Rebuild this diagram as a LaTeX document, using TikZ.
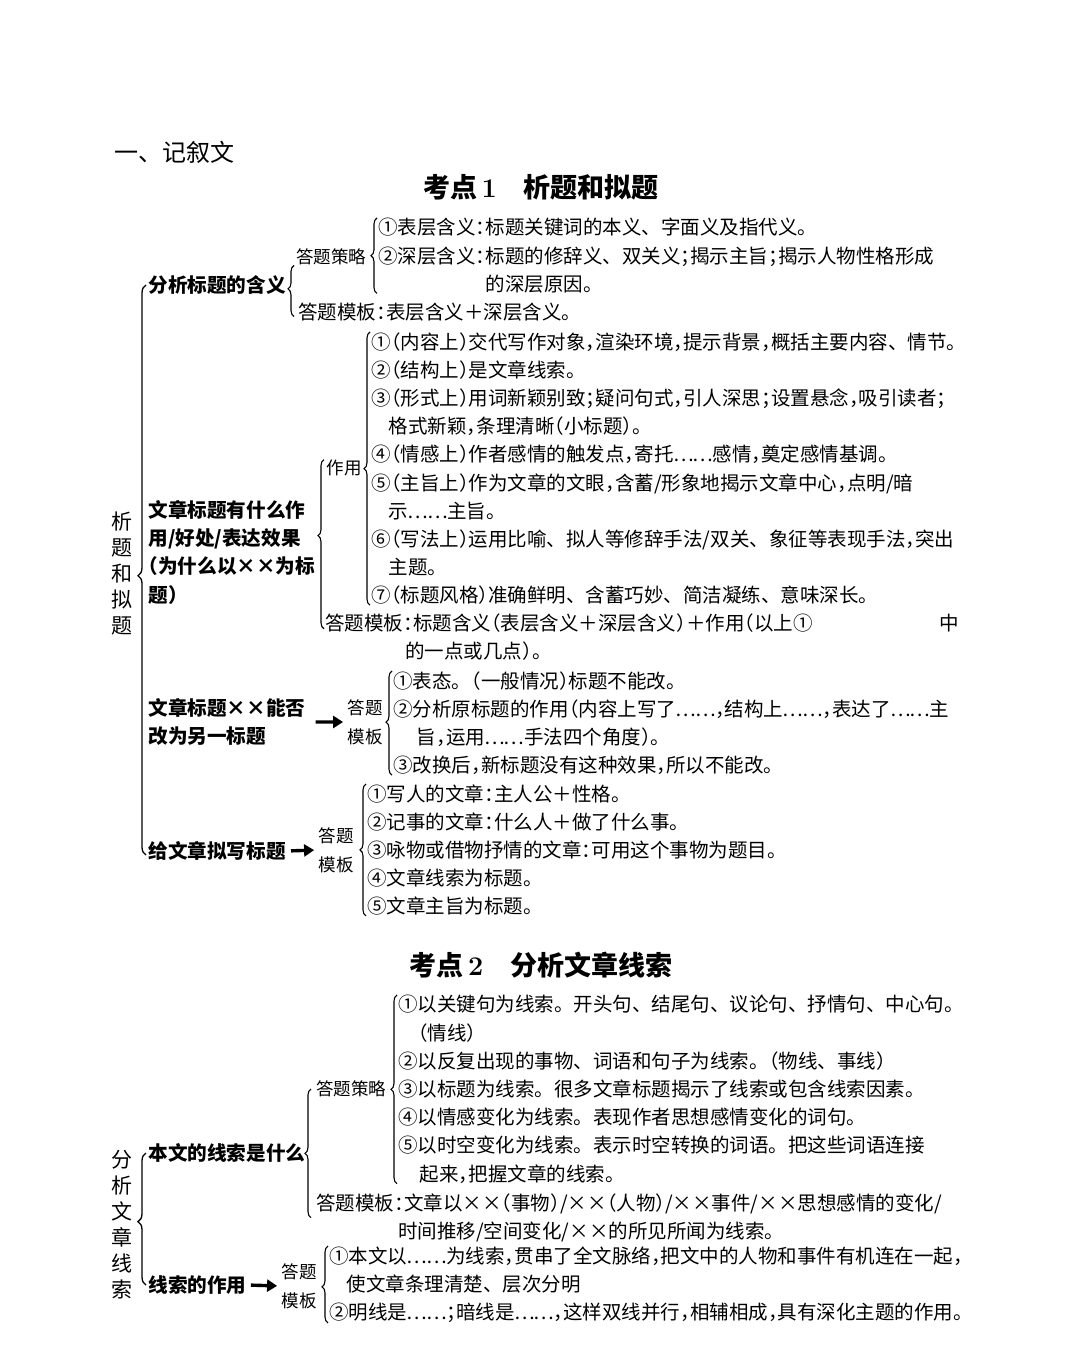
\documentclass[tikz,border=0pt]{standalone}
\usepackage{fontspec}
\usepackage{newunicodechar}
\usepackage{tikz}
\usetikzlibrary{decorations.pathreplacing,arrows.meta}

\newfontfamily\cjk{Noto Sans CJK SC}
\newfontfamily\cjkh[RawFeature=+halt]{Noto Sans CJK SC}
\newunicodechar{，}{{\cjkh\char"FF0C}}
\newunicodechar{；}{{\cjkh\char"FF1B}}
\newunicodechar{：}{{\cjkh\char"FF1A}}
\newunicodechar{（}{{\cjkh\char"FF08}}
\newunicodechar{）}{{\cjkh\char"FF09}}
\newunicodechar{…}{\makebox[1em]{\char"2026}}
\newcommand{\xx}{\makebox[1em]{×}}

\tikzset{
  txt/.style={font=\cjk\fontsize{9.75pt}{14.1pt}\selectfont, align=left, anchor=north west, inner sep=0pt},
  lbl/.style={font=\cjk\fontsize{8.75pt}{14.5pt}\selectfont, align=center, inner sep=0pt},
  hd/.style={font=\cjk\bfseries\fontsize{9.8pt}{14.1pt}\selectfont, align=left, inner sep=0pt},
  vt/.style={font=\cjk\fontsize{10.5pt}{13pt}\selectfont, align=center, inner sep=0pt},
  brc/.style={black, line width=0.55pt, decoration={brace, amplitude=3pt, aspect=#1}, decorate},
  brc/.default=0.5,
  mbrc/.style={black, line width=0.65pt, decoration={brace, amplitude=4pt, aspect=#1}, decorate},
  mbrc/.default=0.5,
  arr/.style={line width=1.7pt, -{Triangle[length=5pt,width=6pt]}},
}

\begin{document}
\begin{tikzpicture}[x=0.5pt,y=-0.5pt]
\fill[white] (0,0) rectangle (1080,1353);
\useasboundingbox (0,0) rectangle (1080,1353);

\node[font=\cjk\fontsize{12pt}{14pt}\selectfont, anchor=west, inner sep=0pt] (sec) at (114,152) {一、记叙文};
\node[font=\cjk\bfseries\fontsize{13.5pt}{16pt}\selectfont, inner sep=0pt] (kd1) at (541,187) {考点\,{\rmfamily\bfseries 1}\quad 析题和拟题};

\node[txt] (clA) at (378,218) {①表层含义：标题关键词的本义、字面义及指代义。\\
②深层含义：标题的修辞义、双关义；揭示主旨；揭示人物性格形成\\
\phantom{②深层含义：}的深层原因。};
\node[lbl] (stA) at (331,257) {答题策略};
\node[txt] (tpA) at (298,303) {答题模板：表层含义＋深层含义。};
\node[hd, anchor=west] (h1) at (148,285) {分析标题的含义};

\node[txt] (zyL) at (371,332) {①（内容上）交代写作对象，渲染环境，提示背景，概括主要内容、情节。\\
②（结构上）是文章线索。\\
③（形式上）用词新颖别致；疑问句式，引人深思；设置悬念，吸引读者；\\
\hspace*{0.9em}格式新颖，条理清晰（小标题）。\\
④（情感上）作者感情的触发点，寄托……感情，奠定感情基调。\\
⑤（主旨上）作为文章的文眼，含蓄/形象地揭示文章中心，点明/暗\\
\hspace*{0.9em}示……主旨。\\
⑥（写法上）运用比喻、拟人等修辞手法/双关、象征等表现手法，突出\\
\hspace*{0.9em}主题。\\
⑦（标题风格）准确鲜明、含蓄巧妙、简洁凝练、意味深长。};
\node[lbl] (zy) at (344,468) {作用};
\node[txt] (tpB) at (325,613) {答题模板：标题含义（表层含义＋深层含义）＋作用（以上①\hspace{6.5em}中\\
\hspace*{4.1em}的一点或几点）。};
\node[hd, anchor=north west] (h2) at (148,500) {文章标题有什么作\\用/好处/表达效果\\（为什么以\xx\xx 为标\\题）};

\node[hd, anchor=north west] (h3) at (148,698) {文章标题\xx\xx 能否\\改为另一标题};
\node[lbl] (mb3) at (365,722) {答题\\模板};
\node[txt] (gL) at (393,671) {①表态。（一般情况）标题不能改。\\
②分析原标题的作用（内容上写了……，结构上……，表达了……主\\
\hspace*{1.2em}旨，运用……手法四个角度）。\\
③改换后，新标题没有这种效果，所以不能改。};

\node[hd, anchor=west] (h4) at (148,851) {给文章拟写标题};
\node[lbl] (mb4) at (336,850) {答题\\模板};
\node[txt] (nL) at (367,784) {①写人的文章：主人公＋性格。\\
②记事的文章：什么人＋做了什么事。\\
③咏物或借物抒情的文章：可用这个事物为题目。\\
④文章线索为标题。\\
⑤文章主旨为标题。};

\node[vt] (vt1) at (122,573) {析\\题\\和\\拟\\题};

\draw[brc] ([xshift=-0.5pt]clA.south west) -- ([xshift=-0.5pt]clA.north west);
\coordinate (bAd) at ([xshift=-2pt,yshift=-2pt]tpA.west);
\coordinate (bAu) at (bAd |- stA.south);
\draw[brc=0.54] (bAd) -- (bAu);
\draw[brc] ([xshift=-0.5pt]zyL.south west) -- ([xshift=-0.5pt]zyL.north west);
\coordinate (bBd) at ([xshift=-0.5pt,yshift=4pt]tpB.west);
\coordinate (bBu) at (bBd |- zy.north);
\draw[brc=0.55] (bBd) -- (bBu);
\draw[brc=0.51] ([xshift=-0.5pt]gL.south west) -- ([xshift=-0.5pt]gL.north west);
\draw[brc] ([xshift=-0.5pt]nL.south west) -- ([xshift=-0.5pt]nL.north west);
\draw[mbrc=0.49] ([xshift=-1pt,yshift=-2pt]h4.west) -- ([xshift=-1pt]h1.west);

\draw[arr, shorten <=5pt, shorten >=2pt] (h3.east) -- (mb3.west);
\draw[arr, shorten <=2.5pt, shorten >=2pt] (h4.east) -- (mb4.west);

\node[font=\cjk\bfseries\fontsize{13.5pt}{16pt}\selectfont, inner sep=0pt] (kd2) at (541,965) {考点\,{\rmfamily\bfseries 2}\quad 分析文章线索};

\node[txt] (clL) at (398,995) {①以关键句为线索。开头句、结尾句、议论句、抒情句、中心句。\\
\hspace*{1em}（情线）\\
②以反复出现的事物、词语和句子为线索。（物线、事线）\\
③以标题为线索。很多文章标题揭示了线索或包含线索因素。\\
④以情感变化为线索。表现作者思想感情变化的词句。\\
⑤以时空变化为线索。表示时空转换的词语。把这些词语连接\\
\hspace*{1.1em}起来，把握文章的线索。};
\node[lbl] (stE) at (351,1089) {答题策略};
\node[txt] (tpE) at (316,1193) {答题模板：文章以\xx\xx（事物）/\xx\xx（人物）/\xx\xx 事件/\xx\xx 思想感情的变化/\\
\hspace*{4.2em}时间推移/空间变化/\xx\xx 的所见所闻为线索。};
\node[hd, anchor=west] (h5) at (148,1153) {本文的线索是什么};

\node[hd, anchor=west] (h6) at (148,1285) {线索的作用};
\node[lbl] (mb6) at (299,1286) {答题\\模板};
\node[txt] (zyG) at (329,1246) {①本文以……为线索，贯串了全文脉络，把文中的人物和事件有机连在一起，\\
\hspace*{0.9em}使文章条理清楚、层次分明\\
②明线是……；暗线是……，这样双线并行，相辅相成，具有深化主题的作用。};

\node[vt] (vt2) at (122,1225) {分\\析\\文\\章\\线\\索};

\draw[brc] ([xshift=-0.5pt]clL.south west) -- ([xshift=-0.5pt]clL.north west);
\coordinate (bEd) at ([xshift=-2.5pt]tpE.west);
\coordinate (bEu) at (bEd |- stE.center);
\draw[brc] (bEd) -- (bEu);
\draw[brc=0.47] ([xshift=-0.5pt]zyG.south west) -- ([xshift=-0.5pt]zyG.north west);
\draw[mbrc=0.48] ([xshift=-1pt]h6.west) -- ([xshift=-1pt]h5.west);
\draw[arr, shorten <=2pt, shorten >=2pt] (h6.east) -- (mb6.west);

\end{tikzpicture}
\end{document}
